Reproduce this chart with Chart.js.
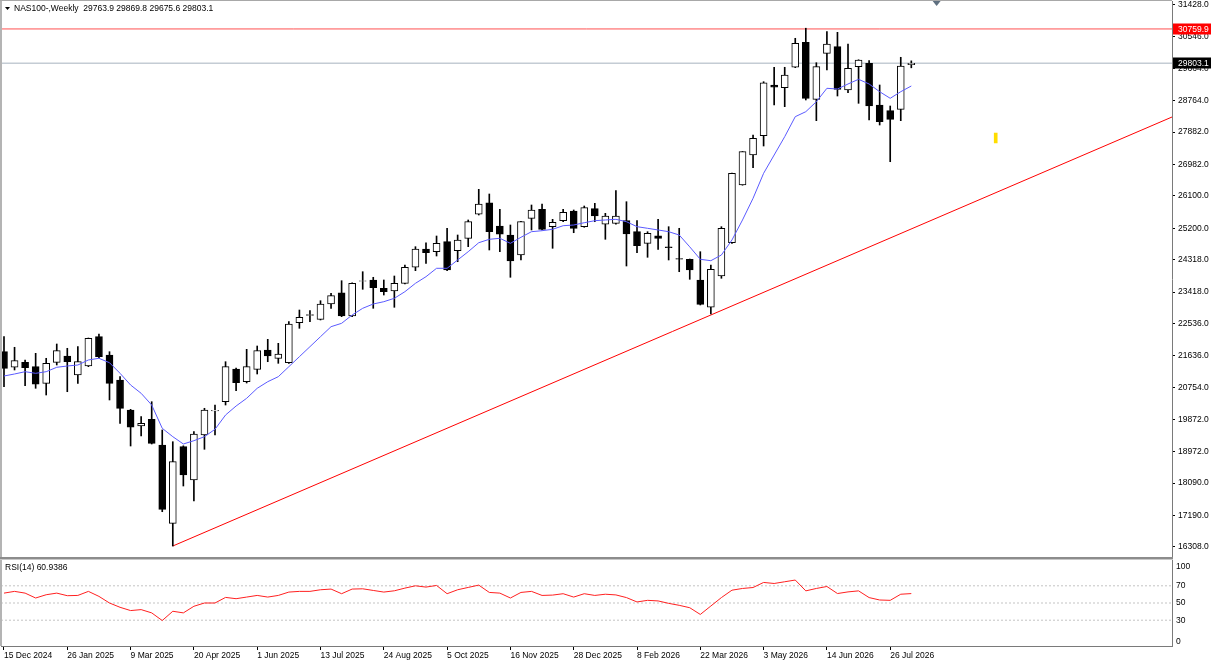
<!DOCTYPE html>
<html><head><meta charset="utf-8">
<script src="https://cdn.jsdelivr.net/npm/chart.js@4.4.1/dist/chart.umd.min.js"></script>
<style>
html,body{margin:0;padding:0;background:#fff;}
#wrap{position:relative;width:1214px;height:662px;overflow:hidden;background:#fff}
#pMain{position:absolute;left:0;top:0;width:1214px;height:558px}
#pRsi{position:absolute;left:0;top:557px;width:1214px;height:105px}
</style></head><body>
<div id="wrap"><div id="pMain"><canvas id="cMain"></canvas></div><div id="pRsi"><canvas id="cRsi"></canvas></div></div>
<script>
// ---------- data ----------
const symbolTitle = 'NAS100-,Weekly';
const rsiTitle = 'RSI(14) 60.9386';
const tickLabels = ['15 Dec 2024','26 Jan 2025','9 Mar 2025','20 Apr 2025','1 Jun 2025','13 Jul 2025','24 Aug 2025','5 Oct 2025','16 Nov 2025','28 Dec 2025','8 Feb 2026','22 Mar 2026','3 May 2026','14 Jun 2026','26 Jul 2026'];
const tickEvery = 6;
const priceTicks = [31428,30546,29664,28764,27882,26982,26100,25200,24318,23418,22536,21636,20754,19872,18972,18090,17190,16308];
const rsiTicks = [100,70,50,30,0];
const rsiLevels = [70,50,30];

const opens  = [21755,21320,21459,21337,20873,21459,21635,21105,21356,22174,
                21663,20966,20129,19682,19869,19152,16967,19105,18176,19431,
                20100,20360,21272,20918,21264,21802,21571,21448,22564,22770,
                22659,23086,23401,22751,23720,23756,23524,23449,23663,24110,
                24620,24545,24824,24573,24919,25589,25912,25262,25011,24453,
                25477,25728,25243,25410,25681,25243,25745,25310,25337,25410,
                25103,24779,24991,24680,24350,24333,23756,22994,23867,24796,
                26406,27243,27781,29196,29121,29690,30387,28797,30080,30265,
                29057,29707,29801,28638,28479,28518,29763.9];
const highs  = [22174,21878,21524,21710,21571,21970,21850,21895,22137,22249,
                21755,21058,20148,19942,20360,19571,19244,19130,19523,20176,
                20268,21476,21300,21822,21914,22101,21989,22592,22918,22899,
                23178,23384,23736,23680,23987,23831,23756,23867,24174,24685,
                24796,24983,25198,25011,25430,26286,26155,25728,25290,25390,
                25848,25876,25449,25728,25709,25820,25895,25616,26247,25940,
                25410,25103,25449,25243,25198,24341,24545,24174,25243,26740,
                27340,27801,29288,29690,29690,30499,30780,29818,30683,30666,
                30340,29900,29874,29196,28610,29969,29869.8];
const lows   = [20779,21245,20806,20734,20547,21384,20639,20873,21337,21588,
                20408,19757,19124,19403,19180,17291,16334,18008,17590,19032,
                19431,20268,20667,20882,21133,21476,21431,21430,22408,22592,
                22640,22966,22732,22732,23496,22966,23337,22994,23644,24015,
                24221,24425,24015,24266,24685,25569,24593,24545,23831,24314,
                25151,25151,24640,25382,25075,25226,25382,24891,25310,24146,
                24517,24389,24612,24314,23987,23775,23058,22807,23803,24779,
                26400,26889,27494,28638,28591,29680,28778,28200,29615,28889,
                28981,28685,28220,28080,27056,28200,29675.6];
const closes = [21292,21504,21309,20846,21431,21783,21476,21476,22129,21616,
                20873,20176,19646,19757,19199,17358,18686,18315,19459,20129,
                20118,21337,20890,21337,21783,21635,21691,22528,22715,22790,
                23086,23318,22751,23663,23735,23541,23429,23663,24110,24620,
                24517,24779,24035,24872,25382,25876,25103,25031,24286,25382,
                25709,25170,25365,25644,25198,25773,25541,25541,25541,25039,
                24712,25058,24919,24660,24335,24035,23077,24054,25198,26732,
                27335,27709,29260,29132,29475,30359,28825,29707,30340,29076,
                29662,29894,28610,28172,28239,29726,29803.1];
const movingAvg = [21077,21133,21197,21152,21197,21320,21356,21384,21524,21571,
                21448,21152,20826,20594,20268,19618,19384,19180,19272,19384,
                19590,19989,20240,20455,20734,20918,21058,21337,21616,21895,
                22174,22453,22547,22779,22966,23086,23150,23245,23429,23663,
                23848,24082,24082,24314,24545,24796,24891,24919,24779,24947,
                25103,25131,25170,25270,25290,25354,25410,25430,25449,25382,
                25243,25198,25151,25103,25011,24680,24333,24294,24453,24872,
                25430,26035,26732,27243,27754,28312,28451,28730,29104,29084,
                29224,29355,29224,29009,28825,29009,29168];
const rsiValues = [61.5,63.5,61.5,55.8,59.6,61.5,58.5,58.8,63.5,57.7,
                50.0,45.0,41.2,42.3,38.5,29.6,40.4,38.5,46.2,50.0,
                50.0,56.5,55.0,56.9,58.8,56.9,58.8,62.7,63.5,63.5,
                65.4,66.2,60.8,66.2,66.5,64.6,62.7,64.2,67.3,70.0,
                68.5,70.4,60.8,65.4,68.1,70.8,62.3,61.5,55.8,62.3,
                63.5,58.8,59.2,60.8,56.9,60.8,58.8,60.2,59.4,56.3,
                51.2,53.1,52.4,49.6,47.3,44.5,36.7,46.5,56.3,64.9,
                66.9,68.0,73.9,72.7,74.7,76.7,64.1,66.9,69.2,61.0,
                62.9,64.1,56.3,53.5,53.1,60.2,60.94];
const resistanceLevel = 30759.9;
const bidLevel = 29803.1;
const trendX = [16, 110.71];
const trendY = [16334, 28303];
const markerX = 94;
const markerRange = [27580, 27855];
const shiftIndex = 88.4;

// ---------- view ----------
const X_MIN = -0.284, X_MAX = 110.71;
const Y_MIN = 16027.2, Y_MAX = 31539.6;
const FONT = '"Liberation Sans", Arial, sans-serif';
const FS = 8.5;
Chart.defaults.font.family = FONT;
Chart.defaults.font.size = FS;
Chart.defaults.color = '#000';
Chart.defaults.animation = false;

const hline = v => [{x:X_MIN,y:v},{x:X_MAX,y:v}];
const noPad = s => { s.paddingTop = 0; s.paddingBottom = 0; s.paddingLeft = 0; s.paddingRight = 0; };

const mainDecor = {
  id:'mainDecor',
  afterDraw(chart){
    const ctx = chart.ctx, ca = chart.chartArea, ys = chart.scales.y, xs = chart.scales.x;
    ctx.save();
    ctx.fillStyle = '#b4b4b4';
    ctx.fillRect(0,0,2,chart.height);
    ctx.fillStyle = '#a8a8a8';
    ctx.fillRect(0,0,ca.right,1);
    ctx.fillStyle = '#8c8c8c';
    ctx.fillRect(0,chart.height-1,ca.right+1,1);
    ctx.fillStyle = '#000';
    ctx.beginPath(); ctx.moveTo(5,7); ctx.lineTo(10,7); ctx.lineTo(7.5,10); ctx.closePath(); ctx.fill();
    ctx.font = FS + 'px ' + FONT;
    ctx.textBaseline = 'middle'; ctx.textAlign = 'left';
    const n = opens.length - 1;
    ctx.fillText(symbolTitle + '  ' + [opens[n],highs[n],lows[n],closes[n]].map(v=>v.toFixed(1)).join(' '), 14, 8.5);
    const box = (v, bg) => {
      const y = Math.round(ys.getPixelForValue(v));
      ctx.fillStyle = bg;
      ctx.fillRect(ca.right+1, y-5.5, 38, 11);
      ctx.fillStyle = '#fff';
      ctx.fillText(v.toFixed(1), ca.right+6, y+0.5);
    };
    box(resistanceLevel, '#ff0000');
    box(bidLevel, '#000000');
    const sx = xs.getPixelForValue(shiftIndex);
    ctx.fillStyle = '#5f7080';
    ctx.beginPath(); ctx.moveTo(sx-4,1); ctx.lineTo(sx+4,1); ctx.lineTo(sx,6); ctx.closePath(); ctx.fill();
    ctx.restore();
  }
};

new Chart(document.getElementById('cMain'), {
  type:'bar',
  data:{datasets:[
    {type:'line', data: movingAvg.map((v,i)=>({x:i,y:v})), borderColor:'#5a5aff', borderWidth:1, pointRadius:0, order:0},
    {type:'bar', data:[{x:markerX,y:markerRange}], backgroundColor:'#ffdd00', borderWidth:0, barThickness:3, grouped:false, order:0},
    {type:'bar', data: opens.map((o,i)=>({x:i,y:[o,closes[i]]})), backgroundColor: opens.map((o,i)=> closes[i]>=o ? '#ffffff' : '#000000'), borderColor:'#000', borderWidth:1, borderSkipped:false, barThickness:7, grouped:false, order:1},
    {type:'bar', data: highs.map((h,i)=>({x:i,y:[lows[i],h]})), backgroundColor:'#000', borderWidth:0, barThickness:1, grouped:false, order:2},
    {type:'line', data: trendX.map((x,k)=>({x:x,y:trendY[k]})), borderColor:'#ff0000', borderWidth:1, pointRadius:0, order:3},
    {type:'line', data: hline(resistanceLevel), borderColor:'#ff5050', borderWidth:1, pointRadius:0, order:3},
    {type:'line', data: hline(bidLevel), borderColor:'#c4ccd4', borderWidth:1.5, pointRadius:0, order:4}
  ]},
  options:{
    responsive:true, maintainAspectRatio:false, animation:false,
    layout:{padding:{left:1,top:1,right:0,bottom:1}},
    plugins:{legend:{display:false}, tooltip:{enabled:false}},
    scales:{
      x:{type:'linear', min:X_MIN, max:X_MAX, offset:false, display:false},
      y:{position:'right', min:Y_MIN, max:Y_MAX,
         afterFit(s){ s.width = 42; noPad(s); },
         afterBuildTicks(s){ s.ticks = priceTicks.map(v=>({value:v})); },
         ticks:{autoSkip:false, callback:v=>Number(v).toFixed(1), color:'#000', padding:3},
         grid:{drawOnChartArea:false, drawTicks:true, tickLength:3, color:'#000'},
         border:{display:true, color:'#7a7a7a'}}
    }
  },
  plugins:[mainDecor]
});

const rsiDecor = {
  id:'rsiDecor',
  afterDraw(chart){
    const ctx = chart.ctx, ca = chart.chartArea, ys = chart.scales.y;
    ctx.save();
    ctx.fillStyle = '#b4b4b4';
    ctx.fillRect(0,0,2,ca.bottom);
    ctx.fillStyle = '#8c8c8c';
    ctx.fillRect(0,0,ca.right+1,2);
    ctx.fillStyle = '#c8c8c8';
    ctx.fillRect(0,2,ca.right+1,1);
    ctx.fillStyle = '#000';
    ctx.font = FS + 'px ' + FONT;
    ctx.textBaseline = 'middle'; ctx.textAlign = 'left';
    ctx.fillText(rsiTitle, 5, 11);
    rsiTicks.forEach(v=>{
      let y = ys.getPixelForValue(v);
      if (v === 100) y = ca.top + 7;
      if (v === 0) y = ca.bottom - 4;
      ctx.fillText(String(v), ca.right + 4, y);
    });
    ctx.restore();
  }
};

new Chart(document.getElementById('cRsi'), {
  type:'line',
  data:{datasets:[
    {data: rsiValues.map((v,i)=>({x:i,y:v})), borderColor:'#ff2020', borderWidth:1, pointRadius:0, order:0},
    ...rsiLevels.map(l=>({data: hline(l), borderColor:'#c4c4c4', borderWidth:1, borderDash:[2,2], pointRadius:0, order:1}))
  ]},
  options:{
    responsive:true, maintainAspectRatio:false, animation:false,
    layout:{padding:{left:1,top:3,right:0,bottom:0}},
    plugins:{legend:{display:false}, tooltip:{enabled:false}},
    scales:{
      x:{type:'linear', min:X_MIN, max:X_MAX, offset:false, position:'bottom',
         afterFit(s){ s.height = 16; noPad(s); },
         afterBuildTicks(s){ s.ticks = tickLabels.map((t,k)=>({value:k*tickEvery})); },
         ticks:{autoSkip:false, maxRotation:0, minRotation:0, align:'start', padding:1, color:'#000',
                callback:v=>tickLabels[Math.round(v/tickEvery)]},
         grid:{drawOnChartArea:false, drawTicks:true, tickLength:4, color:'#000'},
         border:{display:true, color:'#7a7a7a'}},
      y:{position:'right', min:0, max:100,
         afterFit(s){ s.width = 42; noPad(s); },
         ticks:{display:false},
         grid:{display:false},
         border:{display:true, color:'#7a7a7a'}}
    }
  },
  plugins:[rsiDecor]
});
</script>
</body></html>
